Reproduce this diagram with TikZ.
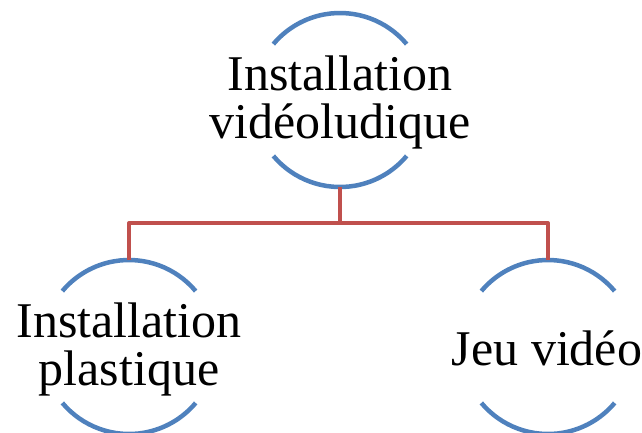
\documentclass[tikz,border=0pt]{standalone}
\usepackage{fontspec}
\setmainfont{Liberation Serif}
\definecolor{arcblue}{HTML}{4F81BD}
\definecolor{linkred}{HTML}{C0504D}
\begin{document}
\begin{tikzpicture}[x=1pt,y=-1pt,
  ring/.style={circle,minimum size=174pt,inner sep=0pt,outer sep=0pt},
  arcline/.style={draw=arcblue,line width=4.5pt},
  link/.style={draw=linkred,line width=4pt},
  label/.style={align=center,font=\fontsize{50}{48}\selectfont,inner sep=0pt}]
\useasboundingbox (0,0) rectangle (642,432);
% circles
\node[ring] (top) at (340,100) {};
\node[ring] (left) at (129,347) {};
\node[ring] (right) at (548,347) {};
\coordinate (j) at (340,223);
% arcs
\foreach \n in {top,left,right}{
  \draw[arcline] (\n.40) arc[start angle=40,end angle=140,radius=87pt];
  \draw[arcline] (\n.220) arc[start angle=220,end angle=320,radius=87pt];
}
% connectors
\draw[link] (top.south) -- (j);
\draw[link,line join=round] (left.north) -- (left.north |- j) -- (right.north |- j) -- (right.north);
% texts
\node[label] (ttop) at (340,102) {Installation\\vidéoludique};
\node[label] (tleft) at (129,349) {Installation\\plastique};
\node[label] (tright) at (547,348) {Jeu vidéo};
\end{tikzpicture}
\end{document}
